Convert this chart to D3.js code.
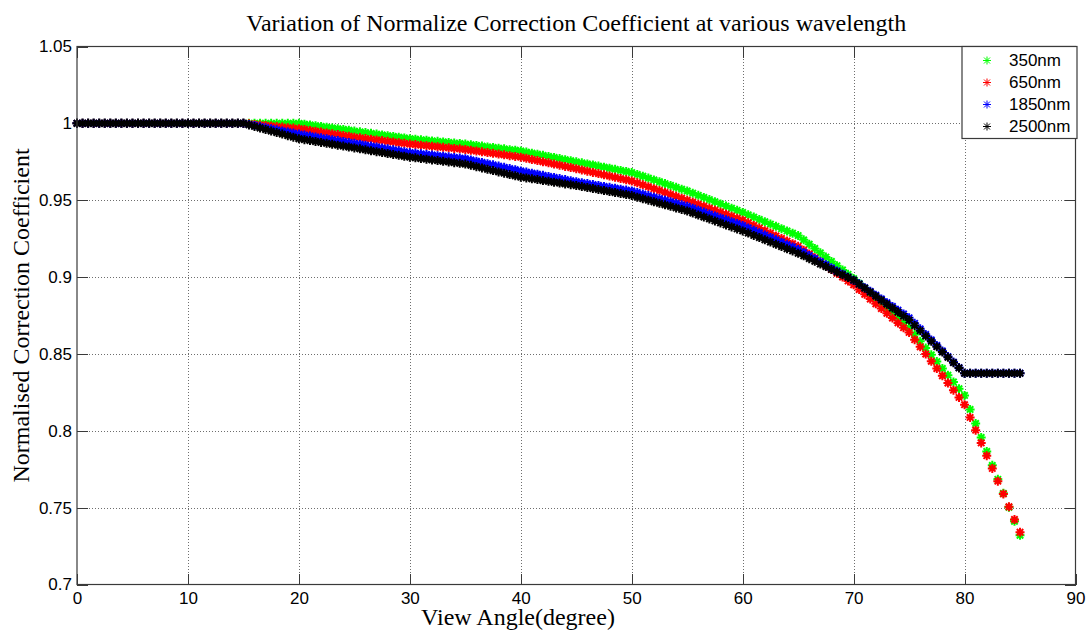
<!DOCTYPE html>
<html>
<head>
<meta charset="utf-8">
<script src="https://cdn.jsdelivr.net/npm/d3@7"></script>
<style>
  html, body { margin: 0; padding: 0; background: #fff; }
  svg { display: block; }
  .tick-label { font-family: "Liberation Sans", Arial, sans-serif; font-size: 17px; fill: #000; }
  .serif { font-family: "Liberation Serif", "Times New Roman", serif; font-size: 24px; fill: #000; }
</style>
</head>
<body>
<svg id="chart" width="1086" height="632"></svg>
<script>
// View angle samples (degrees), one every half degree from 0 to 85
const angles = d3.range(0, 85.25, 0.5);

const xTicks = [0, 10, 20, 30, 40, 50, 60, 70, 80, 90];
const yTicks = [0.7, 0.75, 0.8, 0.85, 0.9, 0.95, 1, 1.05];

const seriesNames = ["350nm", "650nm", "1850nm", "2500nm"];

// Normalised correction coefficient per wavelength, one value per angle sample
const coef350 = [
  1, 1, 1, 1, 1, 1, 1, 1, 1, 1,
  1, 1, 1, 1, 1, 1, 1, 1, 1, 1,
  1, 1, 1, 1, 1, 1, 1, 1, 1, 1,
  1, 1, 1, 1, 1, 1, 1, 1, 1, 1,
  1.0000, 0.9995, 0.9990, 0.9985, 0.9980, 0.9975, 0.9970, 0.9965, 0.9960, 0.9955,
  0.9950, 0.9945, 0.9940, 0.9935, 0.9930, 0.9925, 0.9920, 0.9915, 0.9910, 0.9905,
  0.9900, 0.9897, 0.9893, 0.9890, 0.9886, 0.9883, 0.9879, 0.9876, 0.9872, 0.9869,
  0.9865, 0.9861, 0.9856, 0.9852, 0.9847, 0.9843, 0.9838, 0.9834, 0.9829, 0.9825,
  0.9820, 0.9813, 0.9806, 0.9799, 0.9792, 0.9785, 0.9778, 0.9771, 0.9764, 0.9757,
  0.9750, 0.9743, 0.9736, 0.9729, 0.9722, 0.9715, 0.9708, 0.9701, 0.9694, 0.9687,
  0.9680, 0.9668, 0.9656, 0.9644, 0.9632, 0.9620, 0.9608, 0.9596, 0.9584, 0.9572,
  0.9560, 0.9546, 0.9532, 0.9518, 0.9504, 0.9490, 0.9476, 0.9462, 0.9448, 0.9434,
  0.9420, 0.9405, 0.9390, 0.9375, 0.9360, 0.9345, 0.9330, 0.9315, 0.9300, 0.9285,
  0.9270, 0.9242, 0.9214, 0.9186, 0.9158, 0.9130, 0.9102, 0.9074, 0.9046, 0.9018,
  0.8990, 0.8958, 0.8926, 0.8894, 0.8862, 0.8830, 0.8798, 0.8766, 0.8734, 0.8702,
  0.8670, 0.8626, 0.8582, 0.8538, 0.8494, 0.8450, 0.8406, 0.8362, 0.8318, 0.8274,
  0.8230, 0.8139, 0.8048, 0.7957, 0.7866, 0.7775, 0.7684, 0.7593, 0.7502, 0.7411,
  0.7320
];

const coef650 = [
  1, 1, 1, 1, 1, 1, 1, 1, 1, 1,
  1, 1, 1, 1, 1, 1, 1, 1, 1, 1,
  1, 1, 1, 1, 1, 1, 1, 1, 1, 1,
  1.0000, 0.9997, 0.9993, 0.9990, 0.9986, 0.9983, 0.9979, 0.9976, 0.9972, 0.9969,
  0.9965, 0.9960, 0.9954, 0.9949, 0.9943, 0.9938, 0.9932, 0.9927, 0.9921, 0.9916,
  0.9910, 0.9906, 0.9901, 0.9897, 0.9892, 0.9888, 0.9883, 0.9879, 0.9874, 0.9870,
  0.9865, 0.9862, 0.9858, 0.9855, 0.9851, 0.9848, 0.9844, 0.9841, 0.9837, 0.9834,
  0.9830, 0.9825, 0.9820, 0.9815, 0.9810, 0.9805, 0.9800, 0.9795, 0.9790, 0.9785,
  0.9780, 0.9773, 0.9765, 0.9758, 0.9750, 0.9743, 0.9735, 0.9728, 0.9720, 0.9713,
  0.9705, 0.9697, 0.9689, 0.9681, 0.9673, 0.9665, 0.9657, 0.9649, 0.9641, 0.9633,
  0.9625, 0.9613, 0.9600, 0.9588, 0.9575, 0.9563, 0.9550, 0.9538, 0.9525, 0.9513,
  0.9500, 0.9487, 0.9474, 0.9461, 0.9448, 0.9435, 0.9422, 0.9409, 0.9396, 0.9383,
  0.9370, 0.9353, 0.9336, 0.9319, 0.9302, 0.9285, 0.9268, 0.9251, 0.9234, 0.9217,
  0.9200, 0.9175, 0.9150, 0.9125, 0.9100, 0.9075, 0.9050, 0.9025, 0.9000, 0.8975,
  0.8950, 0.8919, 0.8888, 0.8857, 0.8826, 0.8795, 0.8764, 0.8733, 0.8702, 0.8671,
  0.8640, 0.8593, 0.8546, 0.8499, 0.8452, 0.8405, 0.8358, 0.8311, 0.8264, 0.8217,
  0.8170, 0.8087, 0.8004, 0.7921, 0.7838, 0.7755, 0.7672, 0.7589, 0.7506, 0.7423,
  0.7340
];

const coef1850 = [
  1, 1, 1, 1, 1, 1, 1, 1, 1, 1,
  1, 1, 1, 1, 1, 1, 1, 1, 1, 1,
  1, 1, 1, 1, 1, 1, 1, 1, 1, 1,
  1.0000, 0.9993, 0.9986, 0.9979, 0.9972, 0.9965, 0.9958, 0.9951, 0.9944, 0.9937,
  0.9930, 0.9924, 0.9918, 0.9912, 0.9906, 0.9900, 0.9894, 0.9888, 0.9882, 0.9876,
  0.9870, 0.9864, 0.9858, 0.9852, 0.9846, 0.9840, 0.9834, 0.9828, 0.9822, 0.9816,
  0.9810, 0.9806, 0.9802, 0.9798, 0.9794, 0.9790, 0.9786, 0.9782, 0.9778, 0.9774,
  0.9770, 0.9762, 0.9754, 0.9746, 0.9738, 0.9730, 0.9722, 0.9714, 0.9706, 0.9698,
  0.9690, 0.9683, 0.9676, 0.9669, 0.9662, 0.9655, 0.9648, 0.9641, 0.9634, 0.9627,
  0.9620, 0.9614, 0.9608, 0.9602, 0.9596, 0.9590, 0.9584, 0.9578, 0.9572, 0.9566,
  0.9560, 0.9550, 0.9540, 0.9530, 0.9520, 0.9510, 0.9500, 0.9490, 0.9480, 0.9470,
  0.9460, 0.9448, 0.9435, 0.9423, 0.9410, 0.9398, 0.9385, 0.9373, 0.9360, 0.9348,
  0.9335, 0.9320, 0.9304, 0.9289, 0.9273, 0.9258, 0.9242, 0.9227, 0.9211, 0.9196,
  0.9180, 0.9160, 0.9140, 0.9120, 0.9100, 0.9080, 0.9060, 0.9040, 0.9020, 0.9000,
  0.8980, 0.8956, 0.8931, 0.8907, 0.8882, 0.8858, 0.8833, 0.8809, 0.8784, 0.8760,
  0.8735, 0.8699, 0.8663, 0.8627, 0.8591, 0.8555, 0.8519, 0.8483, 0.8447, 0.8411,
  0.8375, 0.8375, 0.8375, 0.8375, 0.8375, 0.8375, 0.8375, 0.8375, 0.8375, 0.8375,
  0.8375
];

const coef2500 = [
  1, 1, 1, 1, 1, 1, 1, 1, 1, 1,
  1, 1, 1, 1, 1, 1, 1, 1, 1, 1,
  1, 1, 1, 1, 1, 1, 1, 1, 1, 1,
  1.0000, 0.9990, 0.9980, 0.9970, 0.9960, 0.9950, 0.9940, 0.9930, 0.9920, 0.9910,
  0.9900, 0.9894, 0.9888, 0.9882, 0.9876, 0.9870, 0.9864, 0.9858, 0.9852, 0.9846,
  0.9840, 0.9834, 0.9828, 0.9822, 0.9816, 0.9810, 0.9804, 0.9798, 0.9792, 0.9786,
  0.9780, 0.9776, 0.9771, 0.9767, 0.9762, 0.9758, 0.9753, 0.9749, 0.9744, 0.9740,
  0.9735, 0.9727, 0.9718, 0.9710, 0.9701, 0.9693, 0.9684, 0.9676, 0.9667, 0.9659,
  0.9650, 0.9645, 0.9639, 0.9634, 0.9628, 0.9623, 0.9617, 0.9612, 0.9606, 0.9601,
  0.9595, 0.9589, 0.9582, 0.9576, 0.9569, 0.9563, 0.9556, 0.9550, 0.9543, 0.9537,
  0.9530, 0.9520, 0.9510, 0.9500, 0.9490, 0.9480, 0.9470, 0.9460, 0.9450, 0.9440,
  0.9430, 0.9417, 0.9404, 0.9391, 0.9378, 0.9365, 0.9352, 0.9339, 0.9326, 0.9313,
  0.9300, 0.9286, 0.9271, 0.9257, 0.9242, 0.9228, 0.9213, 0.9199, 0.9184, 0.9170,
  0.9155, 0.9138, 0.9120, 0.9103, 0.9085, 0.9068, 0.9050, 0.9033, 0.9015, 0.8998,
  0.8980, 0.8954, 0.8928, 0.8902, 0.8876, 0.8850, 0.8824, 0.8798, 0.8772, 0.8746,
  0.8720, 0.8685, 0.8651, 0.8616, 0.8582, 0.8547, 0.8512, 0.8478, 0.8443, 0.8409,
  0.8374, 0.8374, 0.8374, 0.8374, 0.8374, 0.8374, 0.8374, 0.8374, 0.8374, 0.8374,
  0.8374
];

const seriesValues = [coef350, coef650, coef1850, coef2500];
const seriesColors = ["#00ff00", "#ff0000", "#0000ff", "#000000"];

const svg = d3.select("#chart");
const W = 1086, H = 632;
const plot = { left: 77, top: 46.5, right: 1075.5, bottom: 584.5 };

const x = d3.scaleLinear().domain([0, 90]).range([plot.left, plot.right]);
const y = d3.scaleLinear().domain([0.7, 1.05]).range([plot.bottom, plot.top]);

svg.append("rect").attr("width", W).attr("height", H).attr("fill", "#fff");

// Dotted grid
const grid = svg.append("g").attr("stroke", "#6e6e6e").attr("stroke-width", 1)
  .attr("stroke-dasharray", "1,2").attr("shape-rendering", "crispEdges");
grid.selectAll("line.gx").data(xTicks.slice(1, -1)).join("line")
  .attr("x1", d => Math.round(x(d)) + 0.5).attr("x2", d => Math.round(x(d)) + 0.5)
  .attr("y1", plot.top).attr("y2", plot.bottom);
grid.selectAll("line.gy").data(yTicks.slice(1, -1)).join("line")
  .attr("y1", d => Math.round(y(d)) + 0.5).attr("y2", d => Math.round(y(d)) + 0.5)
  .attr("x1", plot.left).attr("x2", plot.right);

// Axes: bottom/left with labels, top/right mirrored ticks, all pointing inward
const fmt = d => String(+d.toFixed(2));
const tickLen = 11;
const axisColor = "#3a3a3a";

function styleAxis(g) {
  g.select(".domain").remove();
  g.selectAll(".tick line").attr("stroke", axisColor).attr("shape-rendering", "crispEdges");
  g.selectAll(".tick text").attr("class", "tick-label").attr("font-family", null).attr("font-size", null);
}

svg.append("g").attr("transform", `translate(0,${plot.bottom})`)
  .call(d3.axisBottom(x).tickValues(xTicks).tickFormat(fmt).tickSizeInner(-tickLen).tickSizeOuter(0).tickPadding(7))
  .call(styleAxis);
svg.append("g").attr("transform", `translate(0,${plot.top})`)
  .call(d3.axisTop(x).tickValues(xTicks).tickFormat("").tickSizeInner(-tickLen).tickSizeOuter(0))
  .call(styleAxis);
svg.append("g").attr("transform", `translate(${plot.left},0)`)
  .call(d3.axisLeft(y).tickValues(yTicks).tickFormat(fmt).tickSizeInner(-tickLen).tickSizeOuter(0).tickPadding(5))
  .call(styleAxis);
svg.append("g").attr("transform", `translate(${plot.right},0)`)
  .call(d3.axisRight(y).tickValues(yTicks).tickFormat("").tickSizeInner(-tickLen).tickSizeOuter(0))
  .call(styleAxis);

// Asterisk markers: heavier for the data, thin for the legend
const starData = "M-4.5,0H4.5M0,-4.5V4.5M-3.2,-3.2L3.2,3.2M-3.2,3.2L3.2,-3.2";
const starKey = "M-4,0H4M0,-4V4M-3,-3L3,3M-3,3L3,-3";

// Series, drawn in legend order so the last one sits on top
const series = svg.append("g").attr("fill", "none").attr("stroke-width", 2);
seriesValues.forEach((vals, i) => {
  series.append("g").attr("stroke", seriesColors[i])
    .selectAll("path").data(vals).join("path")
    .attr("d", starData)
    .attr("transform", (d, j) => `translate(${x(angles[j])},${y(d)})`);
});

// Plot frame
svg.append("rect")
  .attr("x", plot.left).attr("y", plot.top)
  .attr("width", plot.right - plot.left).attr("height", plot.bottom - plot.top)
  .attr("fill", "none").attr("stroke", axisColor).attr("stroke-width", 1.2);

// Legend
const lg = svg.append("g").attr("transform", "translate(962,46.5)");
lg.append("rect").attr("width", 115).attr("height", 92)
  .attr("fill", "#fff").attr("stroke", axisColor).attr("stroke-width", 1.2);
seriesNames.forEach((name, i) => {
  const cy = 14 + i * 22;
  lg.append("path").attr("d", starKey).attr("fill", "none")
    .attr("stroke", seriesColors[i]).attr("transform", `translate(25,${cy})`);
  lg.append("text").attr("class", "tick-label").attr("x", 47).attr("y", cy).attr("dy", "0.35em").text(name);
});

// Titles
svg.append("text").attr("class", "serif").attr("x", (plot.left + plot.right) / 2).attr("y", 30.5)
  .attr("text-anchor", "middle").text("Variation of Normalize Correction Coefficient at various wavelength");
svg.append("text").attr("class", "serif").attr("x", 518).attr("y", 625)
  .attr("text-anchor", "middle").text("View Angle(degree)");
svg.append("text").attr("class", "serif")
  .attr("transform", `translate(29,${(plot.top + plot.bottom) / 2}) rotate(-90)`)
  .attr("text-anchor", "middle").text("Normalised Correction Coefficient");
</script>
</body>
</html>
